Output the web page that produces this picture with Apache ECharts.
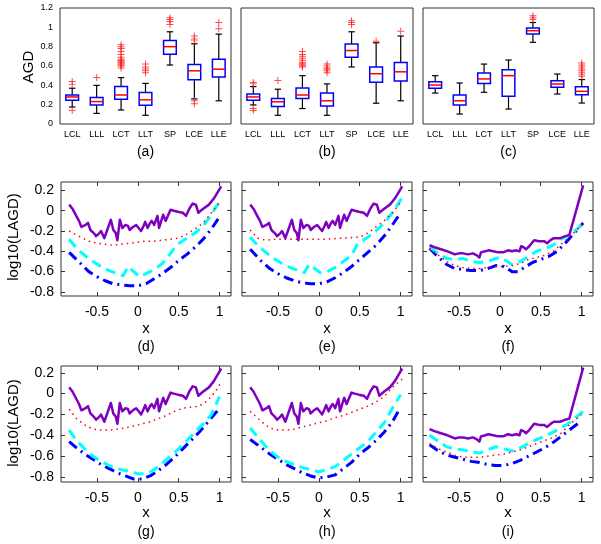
<!DOCTYPE html>
<html><head><meta charset="utf-8">
<script src="https://cdn.jsdelivr.net/npm/echarts@6/dist/echarts.min.js"></script>
<style>html,body{margin:0;padding:0;background:#fff}#c{width:601px;height:544px}</style>
</head><body><div id="c"></div><script>
// ---------- DATA ----------
const boxCategories = ['LCL','LLL','LCT','LLT','SP','LCE','LLE'];
const agdTicks = [0, 0.2, 0.4, 0.6, 0.8, 1, 1.2];
const lagdTicks = [-0.8, -0.6, -0.4, -0.2, 0, 0.2];
const xTicks = [-0.5, 0, 0.5, 1];
// box stats per category: [min whisker, q1, median, q3, max whisker]
const boxA = [[0.176,0.246,0.28,0.30,0.37],[0.11,0.197,0.232,0.275,0.40],[0.145,0.257,0.30,0.387,0.48],[0.09,0.194,0.25,0.327,0.42],[0.61,0.722,0.80,0.863,0.954],[0.26,0.458,0.55,0.616,0.83],[0.24,0.486,0.567,0.67,0.93]];
const boxB = [[0.197,0.246,0.28,0.31,0.387],[0.09,0.18,0.23,0.264,0.36],[0.16,0.264,0.30,0.373,0.50],[0.09,0.187,0.24,0.32,0.415],[0.59,0.69,0.76,0.827,0.954],[0.215,0.433,0.52,0.59,0.84],[0.24,0.444,0.54,0.637,0.91]];
const boxC = [[0.32,0.369,0.403,0.437,0.50],[0.103,0.196,0.24,0.30,0.424],[0.328,0.42,0.466,0.528,0.62],[0.155,0.286,0.50,0.56,0.662],[0.845,0.93,0.965,0.993,1.05],[0.31,0.38,0.414,0.448,0.517],[0.217,0.303,0.338,0.386,0.46]];
// outliers per category
const outA = [[0.44,0.41,0.14],[0.48],[0.58,0.60,0.61,0.62,0.63,0.64,0.65,0.66,0.67,0.69,0.72,0.75,0.78,0.80,0.82],[0.53,0.55,0.57,0.59,0.62],[1.03,1.06,1.08,1.10],[0.86,0.88,0.91,0.24,0.21],[0.985,1.05]];
const outB = [[0.43,0.415,0.16,0.14],[0.45],[0.59,0.60,0.61,0.62,0.63,0.64,0.66,0.68,0.70,0.72,0.75],[0.53,0.55,0.57,0.58,0.60,0.62],[1.03,1.05,1.067],[0.855],[0.96]];
const outC = [[],[],[],[],[1.08,1.10,1.12],[],[0.49,0.51,0.53,0.55,0.57,0.59,0.61,0.63]];

// line panels: [x, log10(LAGD)]
const purpleA = [[-0.84,0.06],[-0.80,0.02],[-0.76,-0.04],[-0.72,-0.10],[-0.69,-0.16],[-0.64,-0.14],[-0.61,-0.12],[-0.58,-0.19],[-0.54,-0.22],[-0.51,-0.25],[-0.47,-0.22],[-0.45,-0.20],[-0.41,-0.27],[-0.37,-0.18],[-0.33,-0.09],[-0.30,-0.19],[-0.27,-0.22],[-0.25,-0.29],[-0.22,-0.09],[-0.19,-0.17],[-0.15,-0.14],[-0.12,-0.15],[-0.10,-0.19],[-0.06,-0.16],[-0.02,-0.14],[0.01,-0.17],[0.04,-0.20],[0.07,-0.15],[0.09,-0.11],[0.12,-0.17],[0.15,-0.12],[0.17,-0.10],[0.20,-0.14],[0.24,-0.05],[0.26,-0.17],[0.29,-0.09],[0.31,-0.04],[0.34,-0.10],[0.36,-0.11],[0.40,0.01],[0.44,0.00],[0.49,-0.01],[0.55,-0.02],[0.59,-0.05],[0.63,0.02],[0.67,0.07],[0.71,0.06],[0.74,-0.02],[0.80,0.02],[0.87,0.06],[0.93,0.12],[1.02,0.24]];
const redD = [[-0.84,-0.20],[-0.7,-0.26],[-0.6,-0.30],[-0.5,-0.32],[-0.4,-0.33],[-0.3,-0.34],[-0.2,-0.33],[-0.1,-0.32],[0,-0.31],[0.1,-0.30],[0.2,-0.30],[0.3,-0.29],[0.4,-0.28],[0.5,-0.27],[0.6,-0.23],[0.7,-0.18],[0.8,-0.12],[0.9,-0.02],[1.02,0.10]];
const cyanD = [[-0.84,-0.28],[-0.75,-0.37],[-0.65,-0.44],[-0.55,-0.50],[-0.45,-0.55],[-0.35,-0.59],[-0.25,-0.62],[-0.18,-0.64],[-0.12,-0.55],[-0.05,-0.60],[0.02,-0.65],[0.1,-0.62],[0.2,-0.58],[0.3,-0.52],[0.4,-0.42],[0.47,-0.34],[0.6,-0.27],[0.7,-0.22],[0.8,-0.15],[0.9,-0.04],[1.02,0.12]];
const blueD = [[-0.84,-0.41],[-0.7,-0.52],[-0.6,-0.6],[-0.5,-0.65],[-0.4,-0.69],[-0.3,-0.72],[-0.2,-0.73],[-0.1,-0.74],[0,-0.74],[0.1,-0.72],[0.2,-0.67],[0.3,-0.62],[0.4,-0.56],[0.5,-0.49],[0.6,-0.43],[0.7,-0.36],[0.8,-0.28],[0.9,-0.18],[1.0,-0.06]];
const redE = [[-0.84,-0.19],[-0.75,-0.27],[-0.65,-0.29],[-0.5,-0.28],[-0.3,-0.28],[-0.1,-0.28],[0.1,-0.28],[0.3,-0.27],[0.5,-0.26],[0.6,-0.22],[0.7,-0.16],[0.8,-0.10],[0.9,-0.02],[1.02,0.10]];
const cyanE = [[-0.84,-0.26],[-0.75,-0.34],[-0.65,-0.41],[-0.55,-0.47],[-0.45,-0.52],[-0.35,-0.56],[-0.25,-0.59],[-0.18,-0.61],[-0.12,-0.53],[-0.05,-0.57],[0.02,-0.61],[0.1,-0.60],[0.2,-0.56],[0.3,-0.50],[0.4,-0.44],[0.47,-0.33],[0.6,-0.26],[0.7,-0.20],[0.8,-0.12],[0.9,-0.02],[1.02,0.13]];
const blueE = [[-0.84,-0.38],[-0.7,-0.50],[-0.6,-0.57],[-0.5,-0.62],[-0.4,-0.66],[-0.3,-0.69],[-0.2,-0.71],[-0.1,-0.72],[0,-0.72],[0.1,-0.70],[0.2,-0.66],[0.3,-0.61],[0.4,-0.55],[0.5,-0.48],[0.6,-0.41],[0.7,-0.34],[0.8,-0.25],[0.9,-0.14],[1.0,-0.02]];
const purpleF = [[-0.86,-0.34],[-0.8,-0.36],[-0.72,-0.38],[-0.64,-0.40],[-0.55,-0.43],[-0.5,-0.42],[-0.45,-0.42],[-0.39,-0.43],[-0.33,-0.42],[-0.28,-0.44],[-0.25,-0.46],[-0.23,-0.41],[-0.18,-0.40],[-0.14,-0.39],[-0.08,-0.40],[-0.02,-0.41],[0.04,-0.41],[0.1,-0.39],[0.15,-0.40],[0.2,-0.39],[0.24,-0.40],[0.26,-0.35],[0.29,-0.36],[0.32,-0.38],[0.36,-0.35],[0.42,-0.29],[0.48,-0.30],[0.54,-0.30],[0.58,-0.32],[0.62,-0.29],[0.66,-0.27],[0.74,-0.27],[0.80,-0.25],[0.85,-0.24],[1.02,0.25]];
const redF = [[-0.86,-0.37],[-0.75,-0.44],[-0.65,-0.50],[-0.55,-0.54],[-0.45,-0.56],[-0.35,-0.57],[-0.25,-0.57],[-0.15,-0.56],[-0.05,-0.55],[0.05,-0.55],[0.15,-0.54],[0.25,-0.52],[0.35,-0.48],[0.45,-0.46],[0.55,-0.44],[0.65,-0.40],[0.75,-0.33],[0.85,-0.26],[1.02,-0.13]];
const cyanF = [[-0.86,-0.36],[-0.75,-0.42],[-0.65,-0.47],[-0.55,-0.48],[-0.45,-0.47],[-0.35,-0.50],[-0.25,-0.51],[-0.15,-0.50],[-0.05,-0.47],[0.0,-0.46],[0.05,-0.48],[0.15,-0.53],[0.25,-0.50],[0.35,-0.45],[0.45,-0.40],[0.55,-0.37],[0.65,-0.34],[0.75,-0.28],[0.85,-0.24],[1.02,-0.13]];
const blueF = [[-0.86,-0.37],[-0.75,-0.46],[-0.65,-0.53],[-0.55,-0.57],[-0.45,-0.58],[-0.35,-0.59],[-0.25,-0.59],[-0.15,-0.57],[-0.05,-0.54],[0.05,-0.55],[0.15,-0.60],[0.22,-0.60],[0.3,-0.56],[0.4,-0.51],[0.5,-0.48],[0.6,-0.45],[0.7,-0.40],[0.8,-0.32],[0.9,-0.23],[1.02,-0.12]];
const redG = [[-0.84,-0.15],[-0.75,-0.24],[-0.65,-0.30],[-0.55,-0.34],[-0.45,-0.35],[-0.35,-0.35],[-0.25,-0.34],[-0.15,-0.33],[-0.05,-0.31],[0.05,-0.29],[0.15,-0.27],[0.25,-0.24],[0.35,-0.21],[0.45,-0.17],[0.55,-0.14],[0.65,-0.13],[0.75,-0.12],[0.85,-0.07],[0.95,0.02],[1.02,0.11]];
const cyanG = [[-0.84,-0.35],[-0.75,-0.45],[-0.65,-0.53],[-0.55,-0.60],[-0.45,-0.65],[-0.35,-0.69],[-0.25,-0.72],[-0.15,-0.74],[-0.1,-0.74],[0,-0.77],[0.1,-0.77],[0.2,-0.73],[0.3,-0.67],[0.4,-0.60],[0.5,-0.53],[0.6,-0.45],[0.7,-0.37],[0.8,-0.29],[0.9,-0.20],[1.0,-0.03]];
const blueG = [[-0.84,-0.46],[-0.75,-0.52],[-0.65,-0.58],[-0.55,-0.63],[-0.45,-0.68],[-0.35,-0.72],[-0.25,-0.76],[-0.15,-0.79],[-0.05,-0.82],[0.05,-0.82],[0.15,-0.79],[0.25,-0.74],[0.35,-0.68],[0.45,-0.61],[0.55,-0.53],[0.65,-0.45],[0.75,-0.37],[0.85,-0.28],[1.0,-0.14]];
const redH = [[-0.84,-0.17],[-0.7,-0.27],[-0.6,-0.33],[-0.5,-0.35],[-0.4,-0.35],[-0.3,-0.34],[-0.2,-0.32],[-0.1,-0.30],[0,-0.28],[0.1,-0.26],[0.2,-0.23],[0.3,-0.21],[0.4,-0.18],[0.5,-0.15],[0.6,-0.12],[0.7,-0.08],[0.8,-0.03],[0.9,0.06],[1.02,0.14]];
const cyanH = [[-0.84,-0.33],[-0.7,-0.46],[-0.6,-0.55],[-0.5,-0.61],[-0.4,-0.65],[-0.3,-0.68],[-0.2,-0.71],[-0.1,-0.73],[0,-0.75],[0.1,-0.73],[0.2,-0.70],[0.3,-0.64],[0.4,-0.58],[0.5,-0.52],[0.6,-0.46],[0.7,-0.37],[0.8,-0.28],[0.9,-0.14],[1.0,-0.01]];
const blueH = [[-0.84,-0.44],[-0.7,-0.52],[-0.6,-0.58],[-0.5,-0.63],[-0.4,-0.68],[-0.3,-0.72],[-0.2,-0.76],[-0.1,-0.79],[0,-0.81],[0.1,-0.80],[0.2,-0.78],[0.3,-0.72],[0.4,-0.66],[0.5,-0.58],[0.6,-0.52],[0.7,-0.45],[0.8,-0.37],[0.9,-0.27],[1.0,-0.13]];
const redI = [[-0.86,-0.48],[-0.75,-0.53],[-0.65,-0.56],[-0.55,-0.59],[-0.45,-0.61],[-0.35,-0.61],[-0.25,-0.61],[-0.15,-0.60],[-0.05,-0.59],[0.05,-0.58],[0.15,-0.56],[0.25,-0.54],[0.35,-0.51],[0.45,-0.48],[0.55,-0.45],[0.65,-0.42],[0.75,-0.38],[0.85,-0.30],[1.0,-0.20]];
const cyanI = [[-0.86,-0.40],[-0.75,-0.46],[-0.65,-0.51],[-0.55,-0.53],[-0.45,-0.54],[-0.35,-0.56],[-0.25,-0.57],[-0.15,-0.54],[-0.05,-0.51],[0.05,-0.53],[0.15,-0.55],[0.25,-0.52],[0.35,-0.48],[0.45,-0.44],[0.55,-0.41],[0.65,-0.37],[0.75,-0.33],[0.85,-0.28],[1.02,-0.17]];
const blueI = [[-0.86,-0.49],[-0.75,-0.55],[-0.65,-0.59],[-0.55,-0.61],[-0.45,-0.63],[-0.35,-0.65],[-0.25,-0.66],[-0.15,-0.68],[-0.05,-0.69],[0.05,-0.69],[0.15,-0.67],[0.25,-0.64],[0.35,-0.60],[0.45,-0.56],[0.55,-0.52],[0.65,-0.47],[0.75,-0.41],[0.85,-0.35],[1.0,-0.26]];

// ---------- LAYOUT / STYLE ----------
const FONT = 'Liberation Sans, Arial, Helvetica, sans-serif';
const AX = '#333';
const colLeft1 = [60, 241, 423], colW1 = [171, 172, 171];
const colLeft2 = [61, 242, 423], colW2 = 170;
const rowTop = [8, 182, 366], rowH = [116, 114, 116];
const rowYRange = [[0, 1.2], [-0.84, 0.283], [-0.848, 0.265]];
const styles = {
  purple: {color: '#8000c0', width: 2.5, type: 'solid'},
  red: {color: '#ff0000', width: 1.5, type: [1.5, 4]},
  cyan: {color: '#00ffff', width: 3, type: [10, 6]},
  blue: {color: '#0000ff', width: 3, type: [10, 5, 2, 5]}
};
const fmt = v => String(Math.round(v * 10) / 10);

const grid = [], xAxis = [], yAxis = [], series = [], graphic = [];
const tick = {inside: true, length: 4, lineStyle: {color: AX}};
const noLine = {show: false, onZero: false};

function addGrid(left, top, width, height) {
  grid.push({left, top, width, height, show: true, borderColor: AX, borderWidth: 1, containLabel: false});
  return grid.length - 1;
}

// ---- box panels ----
const boxSets = [[boxA, outA], [boxB, outB], [boxC, outC]];
boxSets.forEach(([stats, outs], c) => {
  const gi = addGrid(colLeft1[c], rowTop[0], colW1[c], rowH[0]);
  const xi = xAxis.length;
  xAxis.push({type: 'category', gridIndex: gi, data: boxCategories, boundaryGap: true,
    axisLine: noLine, axisTick: Object.assign({alignWithLabel: true}, tick),
    axisLabel: {fontSize: 9, margin: 6, color: '#000', fontFamily: FONT}, splitLine: {show: false}});
  xAxis.push({type: 'category', gridIndex: gi, position: 'top', data: boxCategories, boundaryGap: true,
    axisLine: noLine, axisTick: Object.assign({alignWithLabel: true}, tick), axisLabel: {show: false}});
  const yi = yAxis.length;
  const tv = c === 2 ? [0.3, 0.6, 0.9] : agdTicks;
  yAxis.push({type: 'value', gridIndex: gi, min: 0, max: 1.2, axisLine: noLine,
    axisTick: Object.assign({customValues: tv}, tick), splitLine: {show: false},
    axisLabel: {show: c === 0, customValues: agdTicks, formatter: fmt, fontSize: 9, margin: 7, color: '#000', fontFamily: FONT}});
  yAxis.push({type: 'value', gridIndex: gi, position: 'right', min: 0, max: 1.2, axisLine: noLine,
    axisTick: Object.assign({customValues: tv}, tick), splitLine: {show: false}, axisLabel: {show: false}});
  series.push({
    type: 'custom', xAxisIndex: xi, yAxisIndex: yi, clip: false,
    data: stats.map((s, i) => [i].concat(s)),
    encode: {x: 0, y: [1, 2, 3, 4, 5]},
    renderItem: function (params, api) {
      const i = api.value(0);
      const lo = api.coord([i, api.value(1)]);
      const q1 = api.coord([i, api.value(2)]);
      const md = api.coord([i, api.value(3)]);
      const q3 = api.coord([i, api.value(4)]);
      const hi = api.coord([i, api.value(5)]);
      const bw = api.size([1, 0])[0] * 0.52;
      const cw = bw * 0.5;
      const x = lo[0];
      const k = {stroke: '#000', lineWidth: 1.2};
      return {type: 'group', children: [
        {type: 'line', shape: {x1: x, y1: hi[1], x2: x, y2: q3[1]}, style: k},
        {type: 'line', shape: {x1: x, y1: q1[1], x2: x, y2: lo[1]}, style: k},
        {type: 'line', shape: {x1: x - cw / 2, y1: hi[1], x2: x + cw / 2, y2: hi[1]}, style: k},
        {type: 'line', shape: {x1: x - cw / 2, y1: lo[1], x2: x + cw / 2, y2: lo[1]}, style: k},
        {type: 'rect', shape: {x: x - bw / 2, y: q3[1], width: bw, height: q1[1] - q3[1]}, style: {fill: 'none', stroke: '#0000ff', lineWidth: 1.5}},
        {type: 'line', shape: {x1: x - bw / 2, y1: md[1], x2: x + bw / 2, y2: md[1]}, style: {stroke: '#ff0000', lineWidth: 1.5}}
      ]};
    }
  });
  const pts = [];
  outs.forEach((arr, i) => arr.forEach(v => pts.push([i, v])));
  series.push({type: 'scatter', xAxisIndex: xi, yAxisIndex: yi, data: pts, silent: true,
    symbol: 'path://M4.3,0h1.4v10h-1.4z M0,4.3h10v1.4h-10z', symbolSize: 7,
    itemStyle: {color: '#ff2020'}});
});

// ---- line panels ----
const linePanels = [
  {row: 1, col: 0, purple: purpleA, red: redD, cyan: cyanD, blue: blueD},
  {row: 1, col: 1, purple: purpleA, red: redE, cyan: cyanE, blue: blueE},
  {row: 1, col: 2, purple: purpleF, red: redF, cyan: cyanF, blue: blueF},
  {row: 2, col: 0, purple: purpleA, red: redG, cyan: cyanG, blue: blueG},
  {row: 2, col: 1, purple: purpleA, red: redH, cyan: cyanH, blue: blueH},
  {row: 2, col: 2, purple: purpleF, red: redI, cyan: cyanI, blue: blueI}
];
linePanels.forEach(p => {
  const gi = addGrid(colLeft2[p.col], rowTop[p.row], colW2, rowH[p.row]);
  const [ymin, ymax] = rowYRange[p.row];
  const xi = xAxis.length;
  xAxis.push({type: 'value', gridIndex: gi, min: -0.94, max: 1.14, axisLine: noLine,
    axisTick: Object.assign({customValues: xTicks}, tick), splitLine: {show: false},
    axisLabel: {customValues: xTicks, formatter: fmt, fontSize: 14, margin: 9, color: '#000', fontFamily: FONT}});
  xAxis.push({type: 'value', gridIndex: gi, position: 'top', min: -0.94, max: 1.14, axisLine: noLine,
    axisTick: Object.assign({customValues: xTicks}, tick), splitLine: {show: false}, axisLabel: {show: false}});
  const yi = yAxis.length;
  yAxis.push({type: 'value', gridIndex: gi, min: ymin, max: ymax, axisLine: noLine,
    axisTick: Object.assign({customValues: lagdTicks}, tick), splitLine: {show: false},
    axisLabel: {show: p.col === 0, customValues: lagdTicks, formatter: fmt, fontSize: 14, margin: 7, color: '#000', fontFamily: FONT}});
  yAxis.push({type: 'value', gridIndex: gi, position: 'right', min: ymin, max: ymax, axisLine: noLine,
    axisTick: Object.assign({customValues: lagdTicks}, tick), splitLine: {show: false}, axisLabel: {show: false}});
  ['blue', 'cyan', 'red', 'purple'].forEach(k => {
    series.push({type: 'line', xAxisIndex: xi, yAxisIndex: yi, data: p[k], showSymbol: false, silent: true,
      lineStyle: {color: styles[k].color, width: styles[k].width, type: styles[k].type, cap: 'butt', join: 'round'}});
  });
});

// ---- texts ----
function txt(text, x, y, size, rot) {
  graphic.push({type: 'text', x, y, rotation: rot || 0, silent: true,
    style: {text, fill: '#000', font: size + 'px ' + FONT, textAlign: 'center', textVerticalAlign: 'middle'}});
}
const letters = [['(a)', '(b)', '(c)'], ['(d)', '(e)', '(f)'], ['(g)', '(h)', '(i)']];
const cx1 = [145.5, 327, 508.5], cx2 = [146, 327, 508];
letters[0].forEach((l, c) => txt(l, cx1[c], 152, 14));
letters[1].forEach((l, c) => { txt('x', cx2[c], 329, 15); txt(l, cx2[c], 347, 14); });
letters[2].forEach((l, c) => { txt('x', cx2[c], 513, 15); txt(l, cx2[c], 532, 14); });
txt('AGD', 29, 67, 15, Math.PI / 2);
txt('log10(LAGD)', 14, 237, 15, Math.PI / 2);
txt('log10(LAGD)', 14, 423, 15, Math.PI / 2);

const chart = echarts.init(document.getElementById('c'), null, {renderer: 'canvas'});
chart.setOption({animation: false, backgroundColor: '#fff', grid, xAxis, yAxis, series, graphic});
</script></body></html>
